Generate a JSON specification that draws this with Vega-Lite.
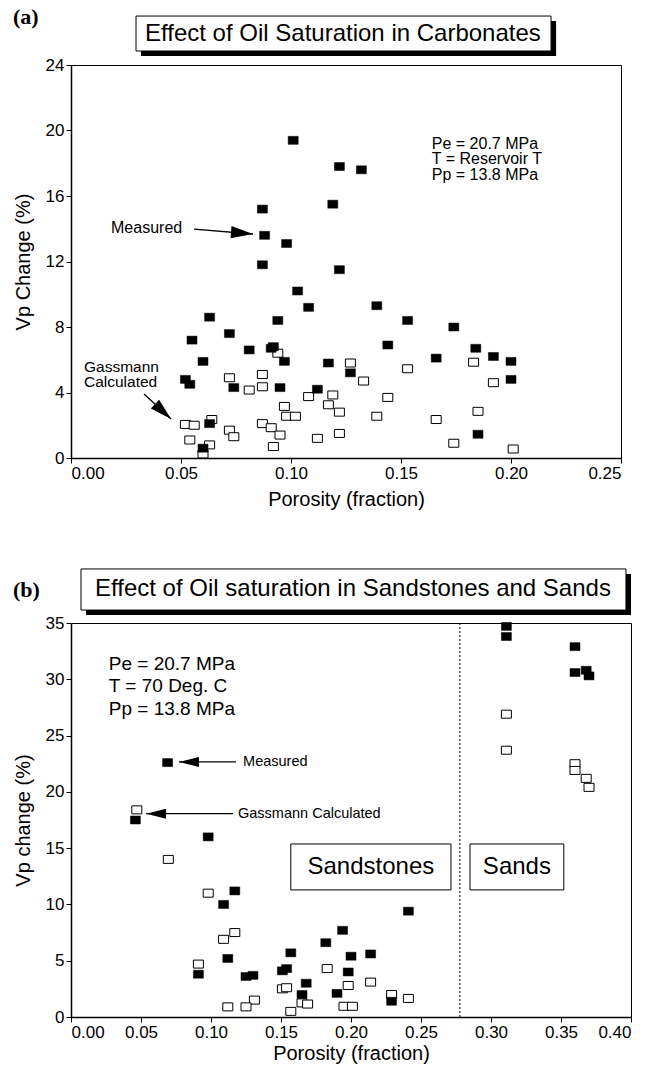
{
"$schema":"https://vega.github.io/schema/vega-lite/v6.json",
"background":"white",
"padding":{"left":12,"top":5,"right":0,"bottom":0},
"config":{"font":"Liberation Sans","view":{"stroke":"black","strokeWidth":1},
"axis":{"domainColor":"black","domainWidth":1.5,"tickColor":"black","tickSize":5,"labelColor":"black","titleColor":"black","labelFont":"Liberation Sans","titleFont":"Liberation Sans","labelFontSize":17,"titleFontSize":20,"titleFontWeight":"normal","grid":false,"labelPadding":2}},
"datasets":{
"a":[
{"porosity":0.101,"vp":19.4,"series":"Measured"},{"porosity":0.122,"vp":17.8,"series":"Measured"},{"porosity":0.132,"vp":17.6,"series":"Measured"},{"porosity":0.087,"vp":15.2,"series":"Measured"},{"porosity":0.119,"vp":15.5,"series":"Measured"},{"porosity":0.088,"vp":13.6,"series":"Measured"},{"porosity":0.098,"vp":13.1,"series":"Measured"},{"porosity":0.087,"vp":11.8,"series":"Measured"},{"porosity":0.122,"vp":11.5,"series":"Measured"},{"porosity":0.103,"vp":10.2,"series":"Measured"},{"porosity":0.108,"vp":9.2,"series":"Measured"},{"porosity":0.139,"vp":9.3,"series":"Measured"},{"porosity":0.063,"vp":8.6,"series":"Measured"},{"porosity":0.094,"vp":8.4,"series":"Measured"},{"porosity":0.153,"vp":8.4,"series":"Measured"},{"porosity":0.174,"vp":8.0,"series":"Measured"},{"porosity":0.072,"vp":7.6,"series":"Measured"},{"porosity":0.055,"vp":7.2,"series":"Measured"},{"porosity":0.144,"vp":6.9,"series":"Measured"},{"porosity":0.081,"vp":6.6,"series":"Measured"},{"porosity":0.091,"vp":6.7,"series":"Measured"},{"porosity":0.092,"vp":6.8,"series":"Measured"},{"porosity":0.184,"vp":6.7,"series":"Measured"},{"porosity":0.192,"vp":6.2,"series":"Measured"},{"porosity":0.166,"vp":6.1,"series":"Measured"},{"porosity":0.060,"vp":5.9,"series":"Measured"},{"porosity":0.097,"vp":5.9,"series":"Measured"},{"porosity":0.117,"vp":5.8,"series":"Measured"},{"porosity":0.200,"vp":5.9,"series":"Measured"},{"porosity":0.127,"vp":5.2,"series":"Measured"},{"porosity":0.052,"vp":4.8,"series":"Measured"},{"porosity":0.054,"vp":4.5,"series":"Measured"},{"porosity":0.074,"vp":4.3,"series":"Measured"},{"porosity":0.095,"vp":4.3,"series":"Measured"},{"porosity":0.112,"vp":4.2,"series":"Measured"},{"porosity":0.200,"vp":4.8,"series":"Measured"},{"porosity":0.063,"vp":2.1,"series":"Measured"},{"porosity":0.060,"vp":0.6,"series":"Measured"},{"porosity":0.185,"vp":1.45,"series":"Measured"},
{"porosity":0.094,"vp":6.4,"series":"Gassmann"},{"porosity":0.127,"vp":5.8,"series":"Gassmann"},{"porosity":0.153,"vp":5.45,"series":"Gassmann"},{"porosity":0.183,"vp":5.85,"series":"Gassmann"},{"porosity":0.087,"vp":5.1,"series":"Gassmann"},{"porosity":0.072,"vp":4.9,"series":"Gassmann"},{"porosity":0.133,"vp":4.7,"series":"Gassmann"},{"porosity":0.192,"vp":4.6,"series":"Gassmann"},{"porosity":0.087,"vp":4.35,"series":"Gassmann"},{"porosity":0.081,"vp":4.15,"series":"Gassmann"},{"porosity":0.108,"vp":3.75,"series":"Gassmann"},{"porosity":0.119,"vp":3.85,"series":"Gassmann"},{"porosity":0.144,"vp":3.7,"series":"Gassmann"},{"porosity":0.117,"vp":3.25,"series":"Gassmann"},{"porosity":0.097,"vp":3.15,"series":"Gassmann"},{"porosity":0.122,"vp":2.8,"series":"Gassmann"},{"porosity":0.185,"vp":2.85,"series":"Gassmann"},{"porosity":0.098,"vp":2.55,"series":"Gassmann"},{"porosity":0.102,"vp":2.55,"series":"Gassmann"},{"porosity":0.139,"vp":2.55,"series":"Gassmann"},{"porosity":0.166,"vp":2.35,"series":"Gassmann"},{"porosity":0.064,"vp":2.35,"series":"Gassmann"},{"porosity":0.052,"vp":2.05,"series":"Gassmann"},{"porosity":0.056,"vp":2.0,"series":"Gassmann"},{"porosity":0.087,"vp":2.1,"series":"Gassmann"},{"porosity":0.091,"vp":1.85,"series":"Gassmann"},{"porosity":0.072,"vp":1.7,"series":"Gassmann"},{"porosity":0.074,"vp":1.3,"series":"Gassmann"},{"porosity":0.095,"vp":1.4,"series":"Gassmann"},{"porosity":0.122,"vp":1.5,"series":"Gassmann"},{"porosity":0.054,"vp":1.1,"series":"Gassmann"},{"porosity":0.112,"vp":1.2,"series":"Gassmann"},{"porosity":0.063,"vp":0.8,"series":"Gassmann"},{"porosity":0.092,"vp":0.7,"series":"Gassmann"},{"porosity":0.174,"vp":0.9,"series":"Gassmann"},{"porosity":0.060,"vp":0.25,"series":"Gassmann"},{"porosity":0.201,"vp":0.55,"series":"Gassmann"}
],
"b":[
{"porosity":0.046,"vp":17.5,"series":"Measured"},{"porosity":0.069,"vp":22.6,"series":"Measured"},{"porosity":0.098,"vp":16.0,"series":"Measured"},{"porosity":0.117,"vp":11.2,"series":"Measured"},{"porosity":0.109,"vp":10.0,"series":"Measured"},{"porosity":0.112,"vp":5.2,"series":"Measured"},{"porosity":0.091,"vp":3.8,"series":"Measured"},{"porosity":0.125,"vp":3.6,"series":"Measured"},{"porosity":0.130,"vp":3.7,"series":"Measured"},{"porosity":0.151,"vp":4.1,"series":"Measured"},{"porosity":0.154,"vp":4.3,"series":"Measured"},{"porosity":0.157,"vp":5.7,"series":"Measured"},{"porosity":0.182,"vp":6.6,"series":"Measured"},{"porosity":0.168,"vp":3.0,"series":"Measured"},{"porosity":0.165,"vp":2.0,"series":"Measured"},{"porosity":0.190,"vp":2.1,"series":"Measured"},{"porosity":0.194,"vp":7.7,"series":"Measured"},{"porosity":0.200,"vp":5.4,"series":"Measured"},{"porosity":0.214,"vp":5.6,"series":"Measured"},{"porosity":0.198,"vp":4.0,"series":"Measured"},{"porosity":0.241,"vp":9.4,"series":"Measured"},{"porosity":0.229,"vp":1.4,"series":"Measured"},{"porosity":0.311,"vp":34.7,"series":"Measured"},{"porosity":0.311,"vp":33.8,"series":"Measured"},{"porosity":0.360,"vp":32.9,"series":"Measured"},{"porosity":0.360,"vp":30.6,"series":"Measured"},{"porosity":0.368,"vp":30.8,"series":"Measured"},{"porosity":0.370,"vp":30.3,"series":"Measured"},
{"porosity":0.047,"vp":18.4,"series":"Gassmann"},{"porosity":0.0695,"vp":14.0,"series":"Gassmann"},{"porosity":0.098,"vp":11.0,"series":"Gassmann"},{"porosity":0.117,"vp":7.5,"series":"Gassmann"},{"porosity":0.109,"vp":6.9,"series":"Gassmann"},{"porosity":0.091,"vp":4.7,"series":"Gassmann"},{"porosity":0.183,"vp":4.3,"series":"Gassmann"},{"porosity":0.151,"vp":2.5,"series":"Gassmann"},{"porosity":0.154,"vp":2.6,"series":"Gassmann"},{"porosity":0.131,"vp":1.5,"series":"Gassmann"},{"porosity":0.112,"vp":0.9,"series":"Gassmann"},{"porosity":0.125,"vp":0.9,"series":"Gassmann"},{"porosity":0.157,"vp":0.5,"series":"Gassmann"},{"porosity":0.165,"vp":1.25,"series":"Gassmann"},{"porosity":0.169,"vp":1.15,"series":"Gassmann"},{"porosity":0.195,"vp":0.95,"series":"Gassmann"},{"porosity":0.201,"vp":0.95,"series":"Gassmann"},{"porosity":0.214,"vp":3.1,"series":"Gassmann"},{"porosity":0.198,"vp":2.8,"series":"Gassmann"},{"porosity":0.229,"vp":2.0,"series":"Gassmann"},{"porosity":0.241,"vp":1.65,"series":"Gassmann"},{"porosity":0.311,"vp":26.9,"series":"Gassmann"},{"porosity":0.311,"vp":23.7,"series":"Gassmann"},{"porosity":0.360,"vp":22.5,"series":"Gassmann"},{"porosity":0.360,"vp":21.9,"series":"Gassmann"},{"porosity":0.368,"vp":21.2,"series":"Gassmann"},{"porosity":0.370,"vp":20.4,"series":"Gassmann"}
]},
"bounds":"flush",
"spacing":165,
"vconcat":[
{"width":550,"height":393,
"layer":[
{"data":{"name":"a"},"transform":[{"filter":"datum.series === 'Gassmann'"}],
"mark":{"type":"point","shape":"M-1,-0.8H1V0.8H-1Z","filled":true,"fill":"white","stroke":"black","strokeWidth":1,"size":100,"opacity":1},
"encoding":{"x":{"field":"porosity","type":"quantitative","scale":{"domain":[0,0.25],"nice":false},"axis":{"title":"Porosity (fraction)","values":[0,0.05,0.1,0.15,0.2,0.25],"format":".2f","titlePadding":8}},
"y":{"field":"vp","type":"quantitative","scale":{"domain":[0,24],"nice":false},"axis":{"title":"Vp  Change (%)","values":[0,4,8,12,16,20,24],"titlePadding":12}}}},
{"data":{"name":"a"},"transform":[{"filter":"datum.series === 'Measured'"}],
"mark":{"type":"point","shape":"M-1,-0.8H1V0.8H-1Z","filled":true,"fill":"black","stroke":"black","strokeWidth":0.5,"size":100,"opacity":1},
"encoding":{"x":{"field":"porosity","type":"quantitative"},"y":{"field":"vp","type":"quantitative"}}},
{"data":{"values":[{}]},"mark":{"type":"rect","fill":"black"},"encoding":{"x":{"datum":0.0318},"x2":{"datum":0.2205},"y":{"datum":26.69},"y2":{"datum":24.55}}},
{"data":{"values":[{}]},"mark":{"type":"rect","fill":"white","stroke":"black","strokeWidth":1},"encoding":{"x":{"datum":0.02955},"x2":{"datum":0.2182},"y":{"datum":26.99},"y2":{"datum":24.855}}},
{"data":{"values":[{}]},"mark":{"type":"text","text":"Effect of Oil Saturation in Carbonates","align":"center","baseline":"middle","fontSize":24,"color":"black"},"encoding":{"x":{"datum":0.1236},"y":{"datum":25.89}}},
{"data":{"values":[{}]},"mark":{"type":"text","text":"(a)","align":"left","baseline":"middle","fontSize":22,"font":"Liberation Serif","fontWeight":"bold","color":"black"},"encoding":{"x":{"datum":-0.0264},"y":{"datum":26.93}}},
{"data":{"values":[{}]},"mark":{"type":"text","text":["Pe = 20.7 MPa","T = Reservoir T","Pp = 13.8 MPa"],"align":"left","baseline":"middle","fontSize":16,"lineHeight":15.5,"color":"black"},"encoding":{"x":{"datum":0.164},"y":{"datum":19.2}}},
{"data":{"values":[{}]},"mark":{"type":"text","text":"Measured","align":"left","baseline":"middle","fontSize":16,"color":"black"},"encoding":{"x":{"datum":0.0182},"y":{"datum":14.05}}},
{"data":{"values":[{}]},"mark":{"type":"rule","color":"black","strokeWidth":1.3},"encoding":{"x":{"datum":0.0559},"y":{"datum":13.98},"x2":{"datum":0.0827},"y2":{"datum":13.68}}},
{"data":{"values":[{}]},"mark":{"type":"point","shape":"M0,0L-2,-0.55L-2,0.55Z","filled":true,"fill":"black","strokeWidth":0,"size":484,"angle":4.8,"opacity":1},"encoding":{"x":{"datum":0.0827},"y":{"datum":13.68}}},
{"data":{"values":[{}]},"mark":{"type":"text","text":["Gassmann","Calculated"],"align":"left","baseline":"middle","fontSize":15.5,"lineHeight":15.5,"color":"black"},"encoding":{"x":{"datum":0.0059},"y":{"datum":5.56}}},
{"data":{"values":[{}]},"mark":{"type":"rule","color":"black","strokeWidth":1.3},"encoding":{"x":{"datum":0.0332},"y":{"datum":3.91},"x2":{"datum":0.0455},"y2":{"datum":2.38}}},
{"data":{"values":[{}]},"mark":{"type":"point","shape":"M0,0L-2,-0.55L-2,0.55Z","filled":true,"fill":"black","strokeWidth":0,"size":484,"angle":42.8,"opacity":1},"encoding":{"x":{"datum":0.0455},"y":{"datum":2.38}}}
]},
{"width":560,"height":394,
"layer":[
{"data":{"values":[{}]},"mark":{"type":"rule","color":"black","strokeWidth":1,"strokeDash":[2,2]},"encoding":{"x":{"datum":0.2778}}},
{"data":{"name":"b"},"transform":[{"filter":"datum.series === 'Gassmann'"}],
"mark":{"type":"point","shape":"M-1,-0.8H1V0.8H-1Z","filled":true,"fill":"white","stroke":"black","strokeWidth":1,"size":100,"opacity":1},
"encoding":{"x":{"field":"porosity","type":"quantitative","scale":{"domain":[0,0.4],"nice":false},"axis":{"title":"Porosity (fraction)","values":[0,0.05,0.1,0.15,0.2,0.25,0.3,0.35,0.4],"format":".2f","titlePadding":3}},
"y":{"field":"vp","type":"quantitative","scale":{"domain":[0,35],"nice":false},"axis":{"title":"Vp change (%)","values":[0,5,10,15,20,25,30,35],"titlePadding":12}}}},
{"data":{"name":"b"},"transform":[{"filter":"datum.series === 'Measured'"}],
"mark":{"type":"point","shape":"M-1,-0.8H1V0.8H-1Z","filled":true,"fill":"black","stroke":"black","strokeWidth":0.5,"size":100,"opacity":1},
"encoding":{"x":{"field":"porosity","type":"quantitative"},"y":{"field":"vp","type":"quantitative"}}},
{"data":{"values":[{}]},"mark":{"type":"rect","fill":"white","stroke":"black","strokeWidth":1},"encoding":{"x":{"datum":0.157},"x2":{"datum":0.2714},"y":{"datum":15.37},"y2":{"datum":11.29}}},
{"data":{"values":[{}]},"mark":{"type":"text","text":"Sandstones","align":"center","baseline":"middle","fontSize":24,"color":"black"},"encoding":{"x":{"datum":0.2142},"y":{"datum":13.33}}},
{"data":{"values":[{}]},"mark":{"type":"rect","fill":"white","stroke":"black","strokeWidth":1},"encoding":{"x":{"datum":0.285},"x2":{"datum":0.352},"y":{"datum":15.37},"y2":{"datum":11.29}}},
{"data":{"values":[{}]},"mark":{"type":"text","text":"Sands","align":"center","baseline":"middle","fontSize":24,"color":"black"},"encoding":{"x":{"datum":0.3185},"y":{"datum":13.33}}},
{"data":{"values":[{}]},"mark":{"type":"rect","fill":"black"},"encoding":{"x":{"datum":0.0107},"x2":{"datum":0.4},"y":{"datum":39.35},"y2":{"datum":35.71}}},
{"data":{"values":[{}]},"mark":{"type":"rect","fill":"white","stroke":"black","strokeWidth":1},"encoding":{"x":{"datum":0.00714},"x2":{"datum":0.3964},"y":{"datum":39.8},"y2":{"datum":36.15}}},
{"data":{"values":[{}]},"mark":{"type":"text","text":"Effect of Oil saturation in Sandstones and Sands","align":"center","baseline":"middle","fontSize":24,"color":"black"},"encoding":{"x":{"datum":0.2014},"y":{"datum":38.0}}},
{"data":{"values":[{}]},"mark":{"type":"text","text":"(b)","align":"left","baseline":"middle","fontSize":22,"font":"Liberation Serif","fontWeight":"bold","color":"black"},"encoding":{"x":{"datum":-0.0414},"y":{"datum":37.93}}},
{"data":{"values":[{}]},"mark":{"type":"text","text":["Pe = 20.7 MPa","T = 70 Deg. C","Pp = 13.8 MPa"],"align":"left","baseline":"middle","fontSize":19,"lineHeight":22.5,"color":"black"},"encoding":{"x":{"datum":0.027},"y":{"datum":31.36}}},
{"data":{"values":[{}]},"mark":{"type":"text","text":"Measured","align":"left","baseline":"middle","fontSize":14.5,"color":"black"},"encoding":{"x":{"datum":0.1229},"y":{"datum":22.66}}},
{"data":{"values":[{}]},"mark":{"type":"rule","color":"black","strokeWidth":1.2},"encoding":{"x":{"datum":0.1179},"y":{"datum":22.66},"x2":{"datum":0.0771},"y2":{"datum":22.66}}},
{"data":{"values":[{}]},"mark":{"type":"point","shape":"M0,0L-2,-0.5L-2,0.5Z","filled":true,"fill":"black","strokeWidth":0,"size":400,"angle":180,"opacity":1},"encoding":{"x":{"datum":0.0771},"y":{"datum":22.66}}},
{"data":{"values":[{}]},"mark":{"type":"text","text":"Gassmann Calculated","align":"left","baseline":"middle","fontSize":14.5,"color":"black"},"encoding":{"x":{"datum":0.1193},"y":{"datum":18.06}}},
{"data":{"values":[{}]},"mark":{"type":"rule","color":"black","strokeWidth":1.2},"encoding":{"x":{"datum":0.1157},"y":{"datum":18.06},"x2":{"datum":0.0536},"y2":{"datum":18.06}}},
{"data":{"values":[{}]},"mark":{"type":"point","shape":"M0,0L-2,-0.5L-2,0.5Z","filled":true,"fill":"black","strokeWidth":0,"size":400,"angle":180,"opacity":1},"encoding":{"x":{"datum":0.0536},"y":{"datum":18.06}}}
]}
]
}
